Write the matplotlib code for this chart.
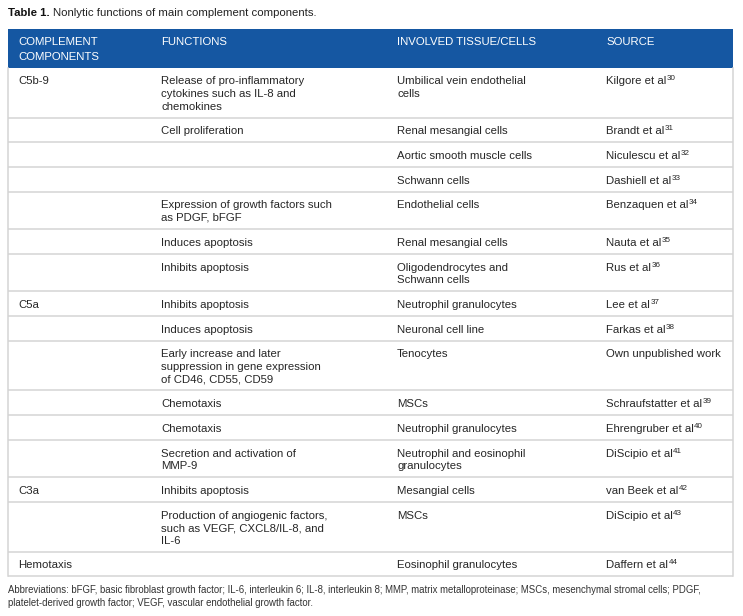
import matplotlib.pyplot as plt
from matplotlib.patches import Rectangle

plt.rcParams['font.family'] = ['Liberation Sans', 'DejaVu Sans']

# table content
headers = ["COMPLEMENT\nCOMPONENTS", "FUNCTIONS", "INVOLVED TISSUE/CELLS", "SOURCE"]
components = ["C5b-9", "", "", "", "", "", "", "C5a", "", "", "", "", "", "C3a", "", "Hemotaxis"]
functions = [
    "Release of pro-inflammatory\ncytokines such as IL-8 and\nchemokines",
    "Cell proliferation",
    "",
    "",
    "Expression of growth factors such\nas PDGF, bFGF",
    "Induces apoptosis",
    "Inhibits apoptosis",
    "Inhibits apoptosis",
    "Induces apoptosis",
    "Early increase and later\nsuppression in gene expression\nof CD46, CD55, CD59",
    "Chemotaxis",
    "Chemotaxis",
    "Secretion and activation of\nMMP-9",
    "Inhibits apoptosis",
    "Production of angiogenic factors,\nsuch as VEGF, CXCL8/IL-8, and\nIL-6",
    "",
]
tissues = [
    "Umbilical vein endothelial\ncells",
    "Renal mesangial cells",
    "Aortic smooth muscle cells",
    "Schwann cells",
    "Endothelial cells",
    "Renal mesangial cells",
    "Oligodendrocytes and\nSchwann cells",
    "Neutrophil granulocytes",
    "Neuronal cell line",
    "Tenocytes",
    "MSCs",
    "Neutrophil granulocytes",
    "Neutrophil and eosinophil\ngranulocytes",
    "Mesangial cells",
    "MSCs",
    "Eosinophil granulocytes",
]
sources = ["Kilgore et al", "Brandt et al", "Niculescu et al", "Dashiell et al",
           "Benzaquen et al", "Nauta et al", "Rus et al", "Lee et al", "Farkas et al",
           "Own unpublished work", "Schraufstatter et al", "Ehrengruber et al",
           "DiScipio et al", "van Beek et al", "DiScipio et al", "Daffern et al"]
refs = ["30", "31", "32", "33", "34", "35", "36", "37", "38", "", "39", "40",
        "41", "42", "43", "44"]

title_bold = "Table 1."
title_rest = "Nonlytic functions of main complement components."
footnote = ("Abbreviations: bFGF, basic fibroblast growth factor; IL-6, interleukin 6; IL-8, interleukin 8; "
            "MMP, matrix metalloproteinase; MSCs, mesenchymal stromal cells; PDGF,\n"
            "platelet-derived growth factor; VEGF, vascular endothelial growth factor.")

W, H = 743, 616
fig = plt.figure(figsize=(W / 100, H / 100), dpi=100)
ax = fig.add_axes([0, 0, 1, 1])
ax.set_xlim(0, W)
ax.set_ylim(H, 0)
ax.axis('off')
renderer = fig.canvas.get_renderer()

left, right = 8, 733
col_x = [18, 161, 397, 606]
fs = 8.2
line_h = 12.5
text_col = '#262626'
grid_col = '#d4d4d4'
blue = '#1557a2'


def put_lines(x, top, s, **kw):
    last = None
    for i, line in enumerate(s.split("\n")):
        last = ax.text(x, top + 16.5 + i * line_h, line, va='baseline', ha='left', **kw)
    return last


# title
t = ax.text(left, 16, title_bold, fontsize=fs, fontweight='bold', color='#111111', va='baseline')
bb = t.get_window_extent(renderer)
x_end = ax.transData.inverted().transform((bb.x1, bb.y0))[0]
ax.text(x_end + 3, 16, title_rest, fontsize=fs, color='#222222', va='baseline')

# header
head_top, head_bot = 29, 68
ax.add_patch(Rectangle((left, head_top), right - left, head_bot - head_top, color=blue, lw=0))
for x, h in zip(col_x, headers):
    for i, line in enumerate(h.split("\n")):
        ax.text(x, 45 + i * 15, line, fontsize=fs, color='white', va='baseline')

# body rows
y = head_bot
for comp, func, tis, src, ref in zip(components, functions, tissues, sources, refs):
    n = max(len(s.split("\n")) for s in (comp, func, tis, src))
    h = 12.4 * (n + 1)
    put_lines(col_x[0], y, comp, fontsize=fs, color=text_col)
    put_lines(col_x[1], y, func, fontsize=fs, color=text_col)
    put_lines(col_x[2], y, tis, fontsize=fs, color=text_col)
    st = put_lines(col_x[3], y, src, fontsize=fs, color=text_col)
    if ref:
        bb = st.get_window_extent(renderer)
        x_end = ax.transData.inverted().transform((bb.x1, bb.y0))[0]
        ax.text(x_end + 0.5, y + 12.5, ref, fontsize=5.8, color=text_col, va='baseline')
    y += h
    ax.plot([left, right], [y, y], color=grid_col, lw=1.1, solid_capstyle='butt')

# outer border
ax.plot([left, left], [head_bot, y], color=grid_col, lw=1.1)
ax.plot([right, right], [head_bot, y], color=grid_col, lw=1.1)

# footnote
for i, line in enumerate(footnote.split("\n")):
    ax.text(left, 593 + i * 12.5, line, fontsize=6.95, color='#333333', va='baseline')

fig.savefig('out.png', dpi=100)
